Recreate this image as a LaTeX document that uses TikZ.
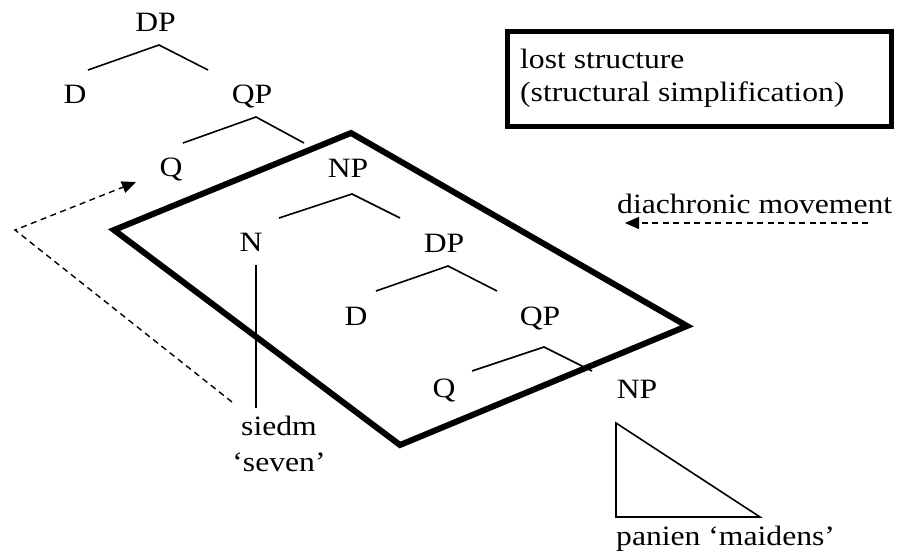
\documentclass[tikz,border=0pt]{standalone}
\usepackage{fontspec}
\setmainfont{Liberation Serif}[FakeStretch=1.13]
\usetikzlibrary{arrows.meta}
\tikzset{
  lbl/.style={anchor=base,inner sep=0pt,font=\fontsize{28}{33.5}\selectfont},
  branch/.style={line width=1.6pt},
  heavy/.style={line width=6pt,line join=miter},
  mov/.style={line width=1.4pt,dash pattern=on 6pt off 4.5pt,-{Triangle[length=14pt,width=12pt]}}
}
\begin{document}
\begin{tikzpicture}[x=1pt,y=-1pt]
\useasboundingbox (0,0) rectangle (898,554);
% thick quadrilateral
\coordinate (pt) at (351,133);
\coordinate (pl) at (114,230);
\coordinate (pb) at (400,445);
\coordinate (pr) at (687,326);
\draw[heavy] (pt) -- (pl) -- (pb) -- (pr) -- cycle;
% labels
\node[lbl] (DP1) at (155.5,31.5) {DP};
\node[lbl] (D1) at (75,103) {D};
\node[lbl] (QP1) at (252,103) {QP};
\node[lbl] (Q1) at (171,176) {Q};
\node[lbl] (NP1) at (348,177) {NP};
\node[lbl] (N1) at (251,251) {N};
\node[lbl] (DP2) at (444,252) {DP};
\node[lbl] (D2) at (356,325) {D};
\node[lbl] (QP2) at (540,325) {QP};
\node[lbl] (Q2) at (444,397) {Q};
\node[lbl] (NP2) at (637,398) {NP};
\node[lbl,align=center,font=\fontsize{28}{36}\selectfont] (siedm) at (279,471) {siedm\\‘seven’};
\node[lbl,anchor=base west] (panien) at (616,545) {panien ‘maidens’};
% branches
\coordinate (a1l) at (88,70); \coordinate (a1) at (159,45); \coordinate (a1r) at (208,70);
\coordinate (a2l) at (183,143); \coordinate (a2) at (256,117); \coordinate (a2r) at (304,143);
\coordinate (a3l) at (279,218); \coordinate (a3) at (352,194); \coordinate (a3r) at (400,218);
\coordinate (a4l) at (376,291); \coordinate (a4) at (448,266); \coordinate (a4r) at (497,291);
\coordinate (a5l) at (472,371); \coordinate (a5) at (544,347); \coordinate (a5r) at (592,371);
\draw[branch] (a1l) -- (a1) -- (a1r);
\draw[branch] (a2l) -- (a2) -- (a2r);
\draw[branch] (a3l) -- (a3) -- (a3r);
\draw[branch] (a4l) -- (a4) -- (a4r);
\draw[branch] (a5l) -- (a5) -- (a5r);
\coordinate (nt) at (256,265); \coordinate (nb) at (256,408);
\draw[branch] (nt) -- (nb);
% triangle
\coordinate (t1) at (616,423); \coordinate (t2) at (616,517); \coordinate (t3) at (760,517);
\draw[branch] (t1) -- (t2) -- (t3) -- cycle;
% movement arrow
\coordinate (m0) at (232,402); \coordinate (m1) at (15,230); \coordinate (m2) at (136,182);
\draw[mov] (m0) -- (m1) -- (m2);
% legend box
\node[draw,line width=5pt,minimum width=384pt,minimum height=95pt,inner sep=0pt] (box) at (699,78.5) {};
\node[lbl,anchor=base west,align=left] (boxtxt) at (520,101.7) {lost structure\\(structural simplification)};
% legend arrow
\node[lbl,anchor=base west] (dia) at (617,213) {diachronic movement};
\coordinate (l0) at (868,223); \coordinate (l1) at (625,223);
\draw[mov] (l0) -- (l1);
\end{tikzpicture}
\end{document}
